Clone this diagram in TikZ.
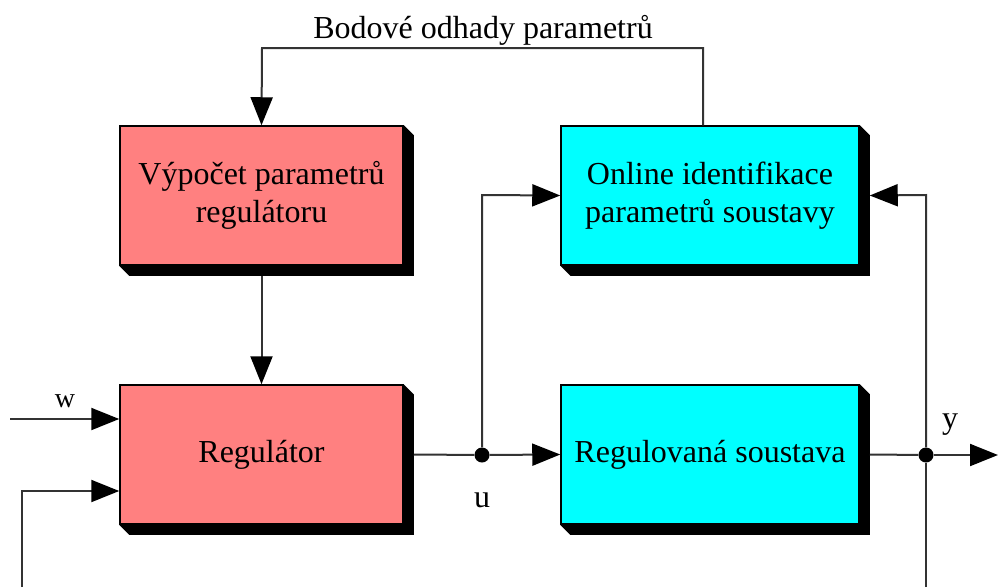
\documentclass[tikz,border=0pt]{standalone}
\usepackage{fontspec}
\setmainfont{Liberation Serif}
\usetikzlibrary{arrows.meta,calc}
\definecolor{boxred}{HTML}{FF8080}
\definecolor{boxcyan}{HTML}{00FFFF}
\tikzset{
  block/.style={draw=black, line width=1.5pt, minimum height=139pt,
    align=center, font=\fontsize{32}{38}\selectfont, inner sep=0pt},
  redblock/.style={block, fill=boxred, minimum width=283pt},
  cyanblock/.style={block, fill=boxcyan, minimum width=298pt},
  wire/.style={line width=2pt, draw=black!80},
  arr/.style={wire, -{Triangle[length=28pt, width=22pt, fill=black, color=black]}},
  lbl/.style={font=\fontsize{32}{38}\selectfont, inner sep=0pt},
  junction/.style={circle, fill=black, minimum size=15pt, inner sep=0pt}
}
\newcommand{\dropshadow}[1]{%
  \fill[black] (#1.north east) -- ++(10,10) -- ($(#1.south east)+(10,10)$)
    -- ($(#1.south west)+(10,10)$) -- (#1.south west) -- (#1.south east) -- cycle;}
\begin{document}
\begin{tikzpicture}[x=1pt, y=-1pt]
  \useasboundingbox[fill=white] (0,0) rectangle (998,587);

  % blocks
  \node[redblock]  (calc) at (261.5,195.5) {Výpočet parametrů\\regulátoru};
  \node[cyanblock] (ident) at (710,195.5) {Online identifikace\\parametrů soustavy};
  \node[redblock]  (reg) at (261.5,454.5) {Regulátor};
  \node[cyanblock] (plant) at (710,454.5) {Regulovaná soustava};
  \foreach \b in {calc,ident,reg,plant} {\dropshadow{\b}}

  % auxiliary points
  \coordinate (topL) at (262,48);
  \coordinate (topR) at (703,48);
  \coordinate (wIn) at (10,419);
  \coordinate (fbBot) at (22,587);
  \coordinate (fbCorner) at (22,491);
  \coordinate (yOut) at (998,455);
  \coordinate (yBot) at (926,587);
  \coordinate (uUp) at (482,195);
  \coordinate (yUp) at (926,195);
  \node[junction] (uj) at (482,455) {};
  \node[junction] (yj) at (926,455) {};

  % parameter estimates fed back to the tuning block
  \draw[arr] (ident.north -| topR) -- (topR) -- (topL) -- (calc.north);
  \node[lbl, anchor=base] (est) at (483,38) {Bodové odhady parametrů};

  % tuning -> controller
  \draw[arr] ($(calc.south)+(0,10)$) -- (reg.north);

  % controller inputs
  \draw[arr] (wIn) -- (wIn -| reg.west);
  \node[lbl, font=\fontsize{28}{34}\selectfont] (wl) at (65,401) {w};
  \draw[arr] (fbBot) -- (fbCorner) -- (fbCorner -| reg.west);

  % control signal u
  \draw[wire] ($(reg.east)+(10,0)$) -- (uj);
  \draw[arr] (uj) -- (plant.west);
  \draw[arr] (uj) -- (uUp) -- (ident.west);
  \node[lbl] (ul) at (482,500) {u};

  % output y
  \draw[wire] ($(plant.east)+(10,0)$) -- (yj);
  \draw[arr] (yj) -- (yOut);
  \draw[wire] (yBot) -- (yj);
  \draw[arr] (yj) -- (yUp) -- ($(ident.east)+(10,0)$);
  \node[lbl] (yl) at (950,425) {y};
\end{tikzpicture}
\end{document}
